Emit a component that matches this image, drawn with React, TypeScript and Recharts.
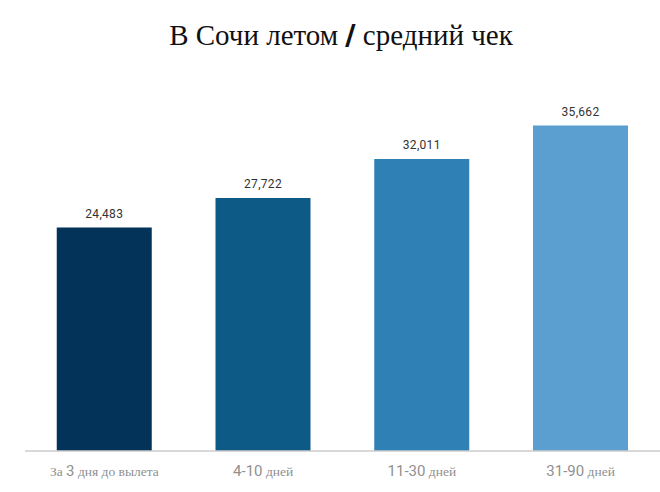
import React from 'react'
import { BarChart, Bar, XAxis, YAxis, Cell, LabelList } from 'recharts'

const categories = ['За 3 дня до вылета', '4-10 дней', '11-30 дней', '31-90 дней']
const averageCheck = [24483, 27722, 32011, 35662]
const barColors = ['#04335a', '#0e5a87', '#2f80b4', '#5a9fd0']

const data = categories.map((name, i) => ({ name, value: averageCheck[i] }))

const SANS = 'Roboto, "Open Sans", sans-serif'
const SERIF = '"Liberation Serif", "DejaVu Serif", serif'

// digits in a sans face, words in a serif face, like the original
function CategoryTick(props: any) {
  const { x, y, payload } = props
  const parts = String(payload.value).split(/(\d+(?:-\d+)?)/).filter(Boolean)
  return (
    <text x={x} y={y + 17} textAnchor="middle" fill="#909090">
      {parts.map((p: string, i: number) =>
        /\d/.test(p) ? (
          <tspan key={i} fontFamily={SANS} fontSize={15}>{p}</tspan>
        ) : (
          <tspan key={i} fontFamily={SERIF} fontSize={13.5}>{p}</tspan>
        )
      )}
    </text>
  )
}

const formatValue = (v: any) => Number(v).toLocaleString('en-US')

export default function App() {
  return (
    <div style={{ position: 'relative', width: 660, height: 492, background: '#fff' }}>
      <style>{'body{margin:0}'}</style>
      <div
        style={{
          position: 'absolute',
          top: 18,
          left: 22,
          width: 638,
          textAlign: 'center',
          fontFamily: SERIF,
          fontSize: 29,
          color: '#111',
        }}
      >
        В Сочи летом <span style={{ fontFamily: SANS, fontWeight: 900 }}>/</span> средний чек
      </div>
      <BarChart
        width={660}
        height={492}
        data={data}
        margin={{ top: 86, right: 0, left: 25, bottom: 0 }}
        barCategoryGap="20%"
      >
        <XAxis
          dataKey="name"
          height={41}
          axisLine={{ stroke: '#cccccc', strokeWidth: 1.5 }}
          tickLine={false}
          tick={<CategoryTick />}
          interval={0}
        />
        <YAxis hide domain={[0, 40000]} />
        <Bar dataKey="value" isAnimationActive={false}>
          {data.map((_, i) => (
            <Cell key={i} fill={barColors[i]} />
          ))}
          <LabelList
            dataKey="value"
            position="top"
            offset={10}
            formatter={formatValue}
            fill="#333"
            fontSize={12}
            fontFamily={SANS}
            letterSpacing={0.3}
          />
        </Bar>
      </BarChart>
    </div>
  )
}
